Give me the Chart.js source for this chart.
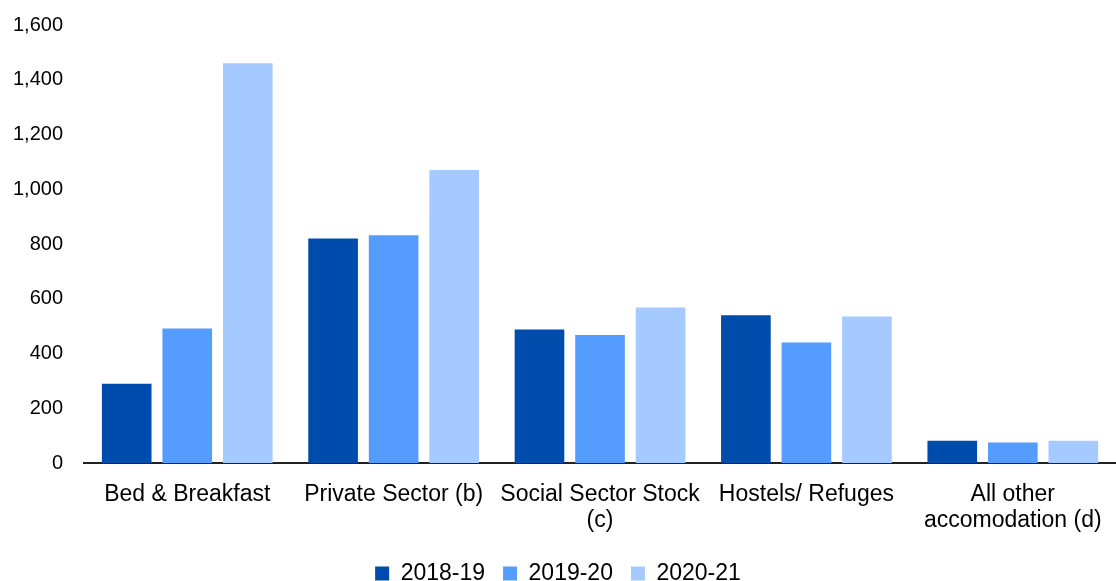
<!DOCTYPE html>
<html>
<head>
<meta charset="utf-8">
<script src="https://cdn.jsdelivr.net/npm/chart.js@4/dist/chart.umd.min.js"></script>
<style>
  html, body { margin: 0; padding: 0; background: #fff; }
  #wrap { width: 1116px; height: 581px; }
</style>
</head>
<body>
<div id="wrap"><canvas id="chart"></canvas></div>
<script>
// Data
const categories = [
  'Bed & Breakfast',
  'Private Sector (b)',
  ['Social Sector Stock', '(c)'],
  'Hostels/ Refuges',
  ['All other', 'accomodation (d)']
];
const years = ['2018-19', '2019-20', '2020-21'];
const values1819 = [290, 820, 488, 540, 82];
const values1920 = [492, 832, 468, 440, 75];
const values2021 = [1460, 1070, 568, 535, 82];
const yTicks = [0, 200, 400, 600, 800, 1000, 1200, 1400, 1600];

const colors = ['#004CAD', '#559CFF', '#A4CAFF'];
const family = '"Liberation Sans", Arial, sans-serif';
const tickFont = { family: family, size: 20 };
const labelFont = { family: family, size: 23, lineHeight: 1.15 };

Chart.defaults.font.family = family;
Chart.defaults.color = '#000';

new Chart(document.getElementById('chart'), {
  type: 'bar',
  data: {
    labels: categories,
    datasets: [values1819, values1920, values2021].map((d, i) => ({
      label: years[i],
      data: d,
      backgroundColor: colors[i],
      categoryPercentage: 0.88,
      barPercentage: 0.82
    }))
  },
  options: {
    responsive: true,
    maintainAspectRatio: false,
    animation: false,
    layout: { padding: { left: 0, right: 0, top: 15, bottom: -14 } },
    scales: {
      y: {
        min: 0, max: 1600,
        afterBuildTicks: (axis) => { axis.ticks = yTicks.map(v => ({ value: v })); },
        grid: { display: false },
        border: { display: false },
        ticks: { font: tickFont, color: '#000', padding: 13 }
      },
      x: {
        grid: { display: false },
        border: { display: true, color: '#222', width: 2 },
        ticks: { font: labelFont, color: '#000', maxRotation: 0, autoSkip: false, padding: 10 }
      }
    },
    plugins: {
      legend: {
        position: 'bottom',
        labels: { font: labelFont, color: '#000', boxWidth: 14, boxHeight: 14, padding: 18 }
      },
      tooltip: { enabled: false }
    }
  }
});
</script>
</body>
</html>
